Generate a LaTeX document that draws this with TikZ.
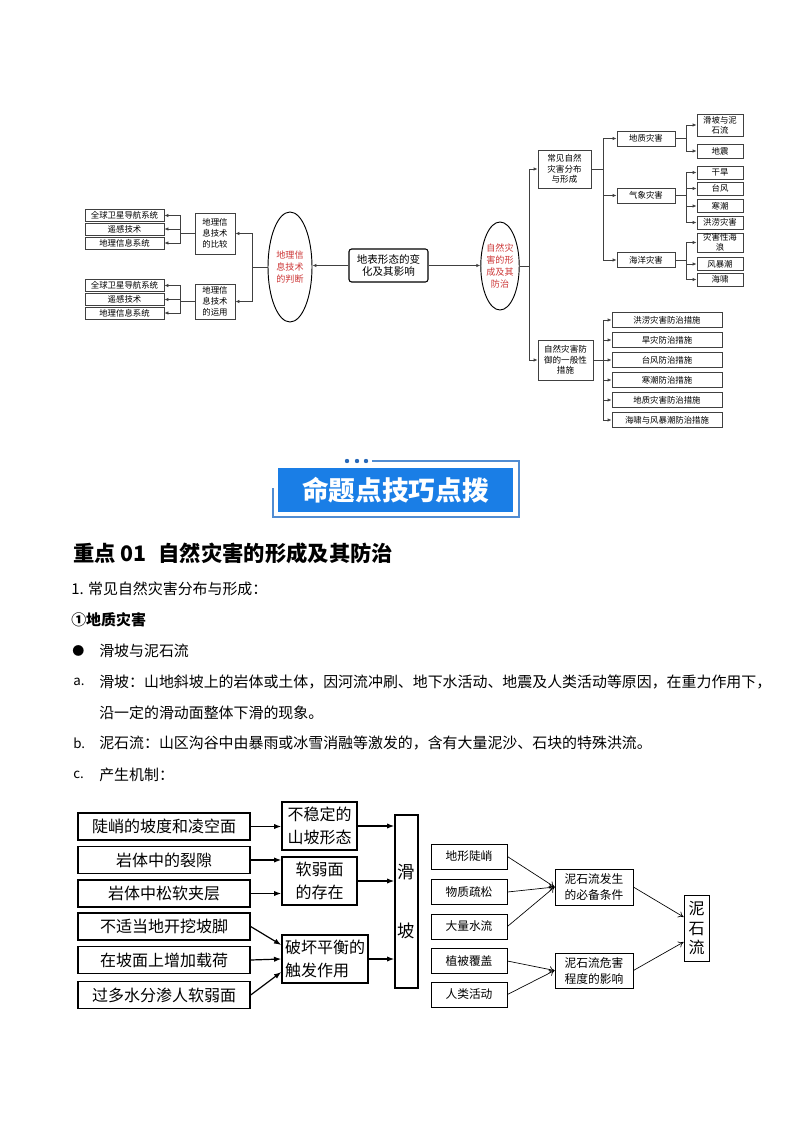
\documentclass[tikz,border=0pt]{standalone}
\usepackage{fontspec}
\setmainfont{Noto Sans CJK SC}
\usetikzlibrary{arrows.meta,shapes.geometric,calc,shadows}
\definecolor{ovred}{RGB}{205,55,55}
\definecolor{mmline}{RGB}{64,64,64}
\definecolor{bblue}{RGB}{26,126,230}
\definecolor{fblue}{RGB}{80,140,210}
\definecolor{dblue}{RGB}{40,105,185}
\newcommand{\mmf}{\fontsize{6.3}{8.2}\selectfont}
\begin{document}
\begin{tikzpicture}[x=0.75pt,y=-0.75pt,
  wh/.style 2 args={minimum width=#1*0.75pt, minimum height=#2*0.75pt},
  mm/.style={draw=mmline, line width=0.6pt, fill=white, inner sep=0pt, align=center, font=\mmf,
    drop shadow={shadow xshift=0.5pt, shadow yshift=-0.5pt, fill=black!40, opacity=1}},
  ov/.style={ellipse, draw=black, line width=0.7pt, fill=white, inner sep=0pt, align=center, text=ovred, font=\fontsize{6.8}{9.2}\selectfont},
  mar/.style={draw=mmline, line width=0.6pt, -{Latex[length=3pt,width=2.6pt]}},
  mln/.style={draw=mmline, line width=0.6pt},
  lb/.style={draw=black, line width=1pt, inner sep=0pt, align=center, font=\fontsize{12}{17}\selectfont},
  lar/.style={draw=black, line width=0.9pt, -{Latex[length=5.5pt,width=4pt]}},
  rb/.style={draw=black, line width=0.6pt, inner sep=0pt, align=center, font=\fontsize{8.8}{12}\selectfont},
  rar/.style={draw=black, line width=0.5pt, -{To[length=4pt,width=5pt]}},
  txt/.style={anchor=west, inner sep=0pt, font=\fontsize{11.2}{13}\selectfont},
]
\useasboundingbox (0,0) rectangle (794,1123);

% ---------- left part of mind map ----------
\node[mm, wh={79}{12}] (L1) at (124.5,215.5) {全球卫星导航系统};
\node[mm, wh={79}{12}] (L2) at (124.5,229) {遥感技术};
\node[mm, wh={79}{12}] (L3) at (124.5,243) {地理信息系统};
\node[mm, wh={40}{41}] (C1) at (215,233.5) {地理信\\息技术\\的比较};
\node[mm, wh={79}{12}] (L4) at (124.5,285.5) {全球卫星导航系统};
\node[mm, wh={79}{12}] (L5) at (124.5,299.5) {遥感技术};
\node[mm, wh={79}{12}] (L6) at (124.5,313) {地理信息系统};
\node[mm, wh={40}{35}] (C2) at (215,301.5) {地理信\\息技术\\的运用};
\node[ov, wh={44}{110}] (O1) at (290,267) {地理信\\息技术\\的判断};
\node[draw=black, line width=0.8pt, rounded corners=2pt, fill=white, inner sep=0pt, align=center,
  font=\fontsize{7.9}{8.9}\selectfont, wh={79}{33}] (M) at (388.5,265.5) {地表形态的变\\化及其影响};
\node[ov, wh={38}{88}] (O2) at (500,266) {自然灾\\害的形\\成及其\\防治};

\coordinate (j1) at (180,233.5);
\coordinate (j2) at (180,301.5);
\coordinate (j0) at (252,267);
\coordinate (j3) at (529,266);
\draw[mln] (C1.west) -- (j1);
\draw[mar] (j1) |- (L1.east);
\draw[mar] (j1) |- (L2.east);
\draw[mar] (j1) |- (L3.east);
\draw[mln] (C2.west) -- (j2);
\draw[mar] (j2) |- (L4.east);
\draw[mar] (j2) |- (L5.east);
\draw[mar] (j2) |- (L6.east);
\draw[mln] (O1.west) -- (j0);
\draw[mar] (j0) |- (C1.east);
\draw[mar] (j0) |- (C2.east);
\draw[mar] (M.west) -- (M.west -| O1.east);
\draw[mar] (M.east) -- (M.east -| O2.west);
\draw[mln] (O2.east) -- (j3);

% ---------- right part of mind map ----------
\node[mm, wh={53}{38}, font=\fontsize{6.4}{7.9}\selectfont] (R1) at (564.5,169) {常见自然\\灾害分布\\与形成};
\node[mm, wh={55}{40}, font=\fontsize{6.4}{7.9}\selectfont] (R2) at (565.5,360) {自然灾害防\\御的一般性\\措施};
\draw[mar] (j3) |- (R1.west);
\draw[mar] (j3) |- (R2.west);

\node[mm, wh={58}{15}] (G1) at (646,138.5) {地质灾害};
\node[mm, wh={58}{15}] (G2) at (646,195.5) {气象灾害};
\node[mm, wh={58}{15}] (G3) at (646,260) {海洋灾害};
\coordinate (k1) at (603,169);
\draw[mln] (R1.east) -- (k1);
\draw[mar] (k1) |- (G1.west);
\draw[mar] (k1) |- (G2.west);
\draw[mar] (k1) |- (G3.west);

\node[mm, wh={46}{22}, font=\fontsize{6.3}{7.6}\selectfont] (H1) at (720,125) {滑坡与泥\\石流};
\node[mm, wh={46}{14}] (H2) at (720,151) {地震};
\node[mm, wh={46}{13}] (H3) at (720,172.5) {干旱};
\node[mm, wh={46}{13}] (H4) at (720,188.5) {台风};
\node[mm, wh={46}{13}] (H5) at (720,206) {寒潮};
\node[mm, wh={46}{13}] (H6) at (720,222.5) {洪涝灾害};
\node[mm, wh={46}{19}, font=\fontsize{6.3}{7.4}\selectfont] (H7) at (720,242.5) {灾害性海\\浪};
\node[mm, wh={46}{13}] (H8) at (720,264) {风暴潮};
\node[mm, wh={46}{13}] (H9) at (720,279.5) {海啸};
\coordinate (k2) at (686,138.5);
\coordinate (k3) at (686,195.5);
\coordinate (k4) at (686,260);
\draw[mln] (G1.east) -- (k2);
\draw[mar] (k2) |- (H1.west);
\draw[mar] (k2) |- (H2.west);
\draw[mln] (G2.east) -- (k3);
\draw[mar] (k3) |- (H3.west);
\draw[mar] (k3) |- (H4.west);
\draw[mar] (k3) |- (H5.west);
\draw[mar] (k3) |- (H6.west);
\draw[mln] (G3.east) -- (k4);
\draw[mar] (k4) |- (H7.west);
\draw[mar] (k4) |- (H8.west);
\draw[mar] (k4) |- (H9.west);

\node[mm, wh={110}{15}] (P1) at (667,320) {洪涝灾害防治措施};
\node[mm, wh={110}{15}] (P2) at (667,340) {旱灾防治措施};
\node[mm, wh={110}{15}] (P3) at (667,360) {台风防治措施};
\node[mm, wh={110}{15}] (P4) at (667,380) {寒潮防治措施};
\node[mm, wh={110}{15}] (P5) at (667,400) {地质灾害防治措施};
\node[mm, wh={110}{15}] (P6) at (667,420) {海啸与风暴潮防治措施};
\coordinate (k5) at (603,360);
\draw[mln] (R2.east) -- (k5);
\foreach \p in {P1,P2,P3,P4,P5,P6}{\draw[mar] (k5) |- (\p.west);}

% ---------- banner ----------
\draw[fblue, line width=1pt] (372,461) -- (519,461) -- (519,517) -- (273,517) -- (273,488);
\fill[dblue] (347,461) circle[radius=2.2];
\fill[dblue] (357,461) circle[radius=2.2];
\fill[dblue] (366,461) circle[radius=2.2];
\node[fill=bblue, wh={235}{44}, inner sep=0pt, text=white, font=\fontsize{20}{24}\selectfont\bfseries] (BN) at (395.5,490) {命题点技巧点拨};

% ---------- text ----------
\node[txt, font=\fontsize{16}{19}\selectfont\bfseries] (T0) at (73,553) {重点 01\hspace{0.55em}自然灾害的形成及其防治};
\node[txt] (T1) at (71,589) {1. 常见自然灾害分布与形成：};
\node[txt, font=\fontsize{11.2}{13}\selectfont\bfseries] (T2) at (71,620) {①地质灾害};
\node[txt, font=\fontsize{9}{11}\selectfont] (T3a) at (72,651) {●};
\node[txt] (T3) at (99,651) {滑坡与泥石流};
\node[txt, font=\fontsize{10}{12}\selectfont] (T4a) at (73,682) {a.};
\node[txt] (T4) at (99,682) {滑坡：山地斜坡上的岩体或土体，因河流冲刷、地下水活动、地震及人类活动等原因，在重力作用下，};
\node[txt] (T5) at (99,713) {沿一定的滑动面整体下滑的现象。};
\node[txt, font=\fontsize{10}{12}\selectfont] (T6a) at (73,743) {b.};
\node[txt] (T6) at (99,743) {泥石流：山区沟谷中由暴雨或冰雪消融等激发的，含有大量泥沙、石块的特殊洪流。};
\node[txt, font=\fontsize{10}{12}\selectfont] (T7a) at (73,775) {c.};
\node[txt] (T7) at (99,775) {产生机制：};

% ---------- landslide chart ----------
\node[lb, wh={172}{27}] (A1) at (164,826.5) {陡峭的坡度和凌空面};
\node[lb, wh={172}{27}] (A2) at (164,860) {岩体中的裂隙};
\node[lb, wh={172}{27}] (A3) at (164,893.5) {岩体中松软夹层};
\node[lb, wh={172}{27}] (A4) at (164,926.5) {不适当地开挖坡脚};
\node[lb, wh={172}{27}] (A5) at (164,960) {在坡面上增加载荷};
\node[lb, wh={172}{27}] (A6) at (164,995) {过多水分渗人软弱面};
\node[lb, wh={75}{48}] (B1) at (319.5,826) {不稳定的\\山坡形态};
\node[lb, wh={75}{48}] (B2) at (319.5,881) {软弱面\\的存在};
\node[lb, wh={86}{48}, align=left] (B3) at (325,959) {破坏平衡的\\触发作用};
\node[lb, wh={23}{173}, font=\fontsize{13}{16}\selectfont] (S) at (406.5,901.5) {滑\\[28pt]坡};
\draw[lar] (A1.east) -- (A1.east -| B1.west);
\draw[lar] (A2.east) -- (A2.east -| B2.west);
\draw[lar] (A3.east) -- (A3.east -| B2.west);
\draw[lar] (A4.east) -- ($(B3.west)+(0,-14)$);
\draw[lar] (A5.east) -- (B3.west);
\draw[lar] (A6.east) -- ($(B3.west)+(0,13)$);
\draw[lar] (B1.east) -- (B1.east -| S.west);
\draw[lar] (B2.east) -- (B2.east -| S.west);
\draw[lar] (B3.east) -- (B3.east -| S.west);

% ---------- debris flow chart ----------
\node[rb, wh={76}{25}] (D1) at (469,856.5) {地形陡峭};
\node[rb, wh={76}{25}] (D2) at (469,892) {物质疏松};
\node[rb, wh={76}{25}] (D3) at (469,926.5) {大量水流};
\node[rb, wh={76}{25}] (D4) at (469,961) {植被覆盖};
\node[rb, wh={76}{25}] (D5) at (469,994.5) {人类活动};
\node[rb, wh={78}{36}] (E1) at (594,887) {泥石流发生\\的必备条件};
\node[rb, wh={78}{35}] (E2) at (594,970.5) {泥石流危害\\程度的影响};
\node[rb, wh={25}{66}, font=\fontsize{12}{14.6}\selectfont] (F) at (696.5,928) {泥\\石\\流};
\draw[rar] (D1.east) -- (E1.west);
\draw[rar] (D2.east) -- (E1.west);
\draw[rar] (D3.east) -- (E1.west);
\draw[rar] (D4.east) -- (E2.west);
\draw[rar] (D5.east) -- (E2.west);
\draw[rar] (E1.east) -- ($(F.west)+(0,-11)$);
\draw[rar] (E2.east) -- ($(F.west)+(0,14)$);
\end{tikzpicture}
\end{document}
